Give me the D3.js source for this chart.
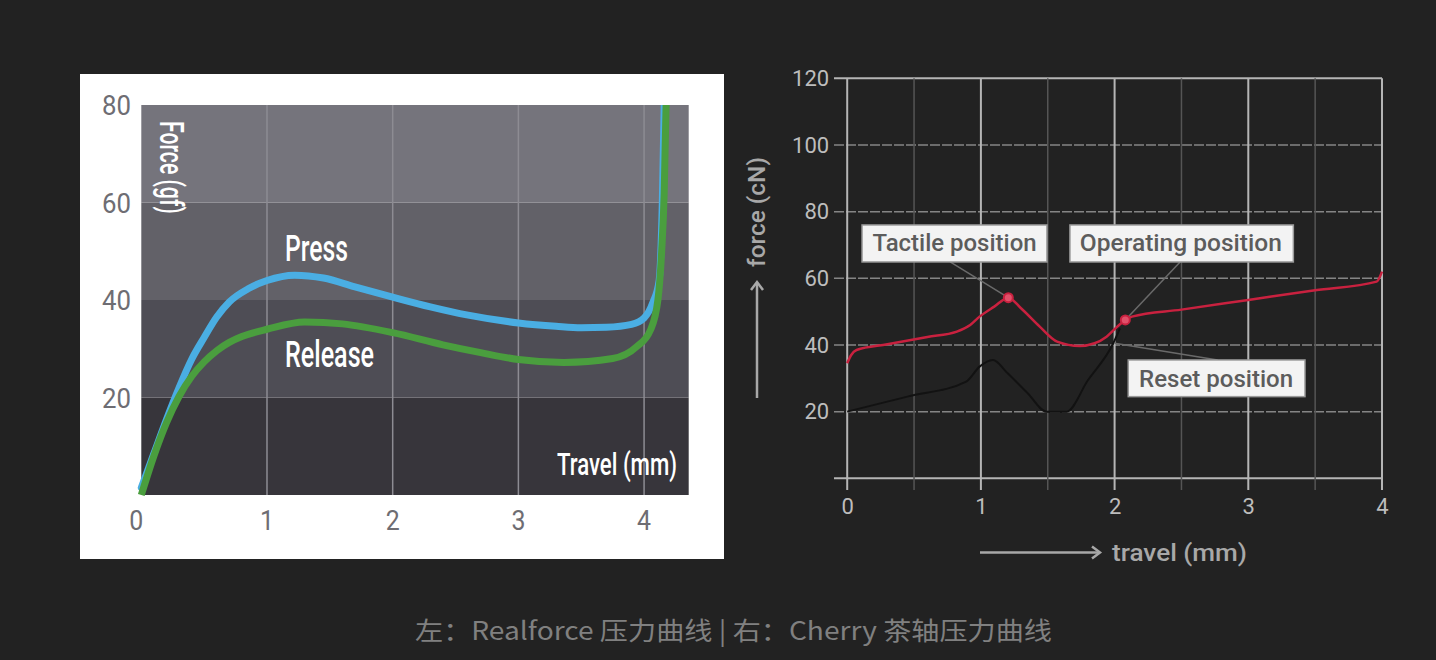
<!DOCTYPE html>
<html>
<head>
<meta charset="utf-8">
<script src="https://cdn.jsdelivr.net/npm/d3@7"></script>
<style>
  html, body { margin: 0; padding: 0; background: #222222; }
  svg { display: block; }
</style>
</head>
<body>
<svg id="chart" width="1436" height="660"></svg>
<script>
// ---------------- DATA ----------------
// Left chart (Realforce)
const leftXTicks = [0, 1, 2, 3, 4];
const leftYTicks = [20, 40, 60, 80];
const leftBandEdges = [0, 20, 40, 60, 80];
const pressX = [0, 0.1, 0.2, 0.3, 0.4, 0.5, 0.6, 0.7, 0.85, 1.0, 1.22, 1.45, 1.7, 2.0, 2.3, 2.6, 3.0, 3.3, 3.5, 3.7, 3.9, 4.0, 4.07, 4.12, 4.145, 4.16];
const pressY = [1.5, 8.5, 15.5, 22, 27.8, 32.3, 36.5, 39.6, 42.3, 44, 45.1, 44.5, 42.7, 40.6, 38.6, 36.9, 35.3, 34.6, 34.3, 34.4, 35, 36.3, 39.5, 44, 60, 80];
const releaseX = [0, 0.1, 0.2, 0.3, 0.4, 0.5, 0.6, 0.7, 0.8, 1.0, 1.3, 1.6, 2.0, 2.4, 2.7, 3.0, 3.36, 3.75, 3.94, 4.05, 4.11, 4.14, 4.16, 4.175];
const releaseY = [0, 8, 14.8, 20.2, 24.3, 27.3, 29.6, 31.3, 32.5, 34.0, 35.5, 35.1, 33.3, 30.8, 29.2, 27.8, 27.2, 28, 30.4, 33.8, 40, 50, 62, 80];

// Right chart (Cherry brown)
const rightXTicks = [0, 0.5, 1, 1.5, 2, 2.5, 3, 3.5, 4];
const rightYTicks = [0, 20, 40, 60, 80, 100, 120];
const actuationX = [0, 0.03, 0.07, 0.3, 0.6, 0.82, 0.92, 0.99, 1.1, 1.205, 1.3, 1.44, 1.57, 1.74, 1.85, 1.94, 2.02, 2.08, 2.13, 2.5, 3.0, 3.5, 3.96, 4.0];
const actuationY = [34.5, 37, 38.5, 40.2, 42.4, 44, 46, 48.5, 51.5, 54.2, 51, 45.5, 41, 39.7, 40.5, 42.5, 45.5, 47.5, 48.5, 50.6, 53.5, 56.4, 59, 62];
const returnX = [0, 0.45, 0.89, 0.99, 1.09, 1.2, 1.35, 1.49, 1.64, 1.8, 1.99, 2.04];
const returnY = [20, 24.5, 29, 33.5, 35.5, 31.5, 25.5, 20, 20, 29.4, 40.5, 45];
const annotationNames = ["Tactile position", "Operating position", "Reset position"];
const annotationX = [1.205, 2.08, 2.0];
const annotationY = [54.2, 47.5, 40.5];
const markedPoints = [0, 1]; // annotations that get a red marker

const caption = "左：Realforce 压力曲线 | 右：Cherry 茶轴压力曲线";

// ---------------- LAYOUT ----------------
const svg = d3.select("#chart");
svg.append("rect").attr("width", 1436).attr("height", 660).attr("fill", "#222222");

// ===== Left chart =====
const L = svg.append("g");
L.append("rect").attr("x", 80).attr("y", 74).attr("width", 644).attr("height", 485).attr("fill", "#ffffff");

const lx = d3.scaleLinear().domain([0, 4.355]).range([141.3, 688.7]);
const ly = d3.scaleLinear().domain([0, 80]).range([495, 105]);
const bandColors = ["#37353b", "#4e4d55", "#626168", "#75747c"];

L.selectAll("rect.band").data(d3.pairs(leftBandEdges)).join("rect")
  .attr("class", "band")
  .attr("x", lx(0)).attr("width", lx(4.355) - lx(0))
  .attr("y", d => ly(d[1])).attr("height", d => ly(d[0]) - ly(d[1]))
  .attr("fill", (d, i) => bandColors[i]);

L.selectAll("line.vgrid").data(leftXTicks.filter(d => d > 0)).join("line")
  .attr("class", "vgrid")
  .attr("x1", d => lx(d)).attr("x2", d => lx(d))
  .attr("y1", ly(80)).attr("y2", ly(0))
  .attr("stroke", "#8d8c93").attr("stroke-width", 1.5);

L.selectAll("text.ytick").data(leftYTicks).join("text")
  .attr("class", "ytick")
  .attr("x", 131).attr("y", d => ly(d))
  .attr("dy", "0.36em").attr("text-anchor", "end")
  .attr("font-family", "Roboto").attr("font-size", 28)
  .attr("fill", "#6e6d73")
  .attr("textLength", 29).attr("lengthAdjust", "spacingAndGlyphs")
  .text(d => d);

L.selectAll("text.xtick").data(leftXTicks).join("text")
  .attr("class", "xtick")
  .attr("x", d => lx(d) - (d === 0 ? 5 : 0)).attr("y", 530)
  .attr("text-anchor", "middle")
  .attr("font-family", "Roboto").attr("font-size", 28)
  .attr("fill", "#6e6d73")
  .attr("textLength", 14).attr("lengthAdjust", "spacingAndGlyphs")
  .text(d => d);

const lline = d3.line().x(d => lx(d[0])).y(d => ly(d[1])).curve(d3.curveMonotoneX);
L.append("path").datum(d3.zip(pressX, pressY))
  .attr("d", lline).attr("fill", "none")
  .attr("stroke", "#4aaee3").attr("stroke-width", 7).attr("stroke-linecap", "round");
L.append("path").datum(d3.zip(releaseX, releaseY))
  .attr("d", lline).attr("fill", "none")
  .attr("stroke", "#4a9e3e").attr("stroke-width", 7).attr("stroke-linecap", "butt");

// cover overflow above the plot area
L.append("rect").attr("x", 600).attr("y", 74).attr("width", 124).attr("height", ly(80) - 74).attr("fill", "#ffffff");

const condensed = (sel, len) => sel.attr("textLength", len).attr("lengthAdjust", "spacingAndGlyphs");
L.append("text").attr("x", 285).attr("y", 261)
  .attr("font-family", "Roboto").attr("font-weight", 500).attr("font-size", 37).attr("fill", "#ffffff")
  .call(condensed, 63).text("Press");
L.append("text").attr("x", 285).attr("y", 367)
  .attr("font-family", "Roboto").attr("font-weight", 500).attr("font-size", 37).attr("fill", "#ffffff")
  .call(condensed, 89).text("Release");
L.append("text").attr("x", 557).attr("y", 475)
  .attr("font-family", "Roboto").attr("font-weight", 500).attr("font-size", 32).attr("fill", "#ffffff")
  .call(condensed, 120).text("Travel (mm)");
L.append("text").attr("transform", "translate(160,121) rotate(90)")
  .attr("font-family", "Roboto").attr("font-weight", 500).attr("font-size", 33).attr("fill", "#ffffff")
  .call(condensed, 93).text("Force (gf)");

// ===== Right chart =====
const R = svg.append("g");
const rx = d3.scaleLinear().domain([0, 4]).range([847.2, 1382]);
const ry = d3.scaleLinear().domain([0, 120]).range([478.3, 78.3]);
const major = d => Number.isInteger(d);

// horizontal grid
R.selectAll("line.hgrid").data(rightYTicks).join("line")
  .attr("class", "hgrid")
  .attr("x1", 834).attr("x2", rx(4))
  .attr("y1", d => ry(d)).attr("y2", d => ry(d))
  .attr("stroke", d => (d === 0 || d === 120) ? "#b5b5b5" : "#858585")
  .attr("stroke-width", d => (d === 0 || d === 120) ? 2 : 1.5)
  .attr("stroke-dasharray", d => (d === 0 || d === 120) ? null : "10,2");

// vertical grid
R.selectAll("line.vgrid").data(rightXTicks).join("line")
  .attr("class", "vgrid")
  .attr("x1", d => rx(d)).attr("x2", d => rx(d))
  .attr("y1", ry(120)).attr("y2", 490)
  .attr("stroke", d => major(d) ? "#b5b5b5" : "#555555")
  .attr("stroke-width", d => major(d) ? 2 : 1.5);

// axes labels via d3 axes
const yAxis = d3.axisLeft(ry).tickValues(rightYTicks).tickSize(0).tickPadding(18)
  .tickFormat(d => d === 0 ? "" : d);
const yg = R.append("g").attr("transform", `translate(${rx(0)},0)`).call(yAxis);
yg.select(".domain").remove();
yg.selectAll("text").attr("font-family", "Roboto").attr("font-size", 22).attr("fill", "#bdbdbd");

const xAxis = d3.axisBottom(rx).tickValues(rightXTicks).tickSize(0).tickPadding(20)
  .tickFormat(d => major(d) ? d : "");
const xg = R.append("g").attr("transform", `translate(0,${ry(0)})`).call(xAxis);
xg.select(".domain").remove();
xg.selectAll("text").attr("font-family", "Roboto").attr("font-size", 22).attr("fill", "#bdbdbd");

// curves
const rline = d3.line().x(d => rx(d[0])).y(d => ry(d[1])).curve(d3.curveMonotoneX);
R.append("path").datum(d3.zip(returnX, returnY))
  .attr("d", rline).attr("fill", "none").attr("stroke", "#121212").attr("stroke-width", 2);
R.append("path").datum(d3.zip(actuationX, actuationY))
  .attr("d", rline).attr("fill", "none").attr("stroke", "#c9213f").attr("stroke-width", 2.5);

// annotations (box anchor layout in data units)
const boxLayout = [
  { x0: 0.111, x1: 1.494, y0: 76, y1: 64.9, tx: 0.19, ty: 68.2, len: 164, lx: 0.77, ly: 64.9 },
  { x0: 1.666, x1: 3.337, y0: 76, y1: 64.9, tx: 1.74, ty: 68.2, len: 202, lx: 2.49, ly: 64.9 },
  { x0: 2.102, x1: 3.424, y0: 35.5, y1: 24.5, tx: 2.183, ty: 27.5, len: 154, lx: 2.77, ly: 35.5 }
];
const ann = R.selectAll("g.ann").data(annotationNames.map((n, i) => ({ name: n, px: annotationX[i], py: annotationY[i], b: boxLayout[i] })))
  .join("g").attr("class", "ann");
ann.append("line")
  .attr("x1", d => rx(d.b.lx)).attr("y1", d => ry(d.b.ly))
  .attr("x2", d => rx(d.px)).attr("y2", d => ry(d.py))
  .attr("stroke", "#6a6a6a").attr("stroke-width", 1.5);
ann.append("rect")
  .attr("x", d => rx(d.b.x0)).attr("y", d => ry(d.b.y0))
  .attr("width", d => rx(d.b.x1) - rx(d.b.x0)).attr("height", d => ry(d.b.y1) - ry(d.b.y0))
  .attr("fill", "#f3f3f3").attr("stroke", "#9a9a9a").attr("stroke-width", 1.5);
ann.append("text")
  .attr("x", d => rx(d.b.tx)).attr("y", d => ry(d.b.ty))
  .attr("font-family", "Roboto").attr("font-weight", 500).attr("font-size", 23).attr("fill", "#5c5c5c")
  .attr("textLength", d => d.b.len).attr("lengthAdjust", "spacingAndGlyphs")
  .text(d => d.name);

R.selectAll("circle.mark").data(markedPoints).join("circle")
  .attr("class", "mark")
  .attr("cx", i => rx(annotationX[i])).attr("cy", i => ry(annotationY[i]))
  .attr("r", 4.5).attr("fill", "#e0506a").attr("stroke", "#c9213f").attr("stroke-width", 2);

// axis titles with arrows
const arrowColor = "#a8a8a8";
R.append("line").attr("x1", 757).attr("y1", 398).attr("x2", 757).attr("y2", 283)
  .attr("stroke", arrowColor).attr("stroke-width", 2.5);
R.append("path").attr("d", "M751,290 L757,282 L763,290").attr("fill", "none")
  .attr("stroke", arrowColor).attr("stroke-width", 2.5);
R.append("text").attr("transform", "translate(765,267) rotate(-90)")
  .attr("font-family", "Roboto").attr("font-weight", 500).attr("font-size", 23).attr("fill", arrowColor)
  .attr("textLength", 110).attr("lengthAdjust", "spacingAndGlyphs")
  .text("force (cN)");

R.append("line").attr("x1", 980).attr("y1", 552.5).attr("x2", 1099).attr("y2", 552.5)
  .attr("stroke", arrowColor).attr("stroke-width", 2.5);
R.append("path").attr("d", "M1092,546.5 L1100,552.5 L1092,558.5").attr("fill", "none")
  .attr("stroke", arrowColor).attr("stroke-width", 2.5);
R.append("text").attr("x", 1112).attr("y", 561)
  .attr("font-family", "Roboto").attr("font-weight", 500).attr("font-size", 24).attr("fill", arrowColor)
  .attr("textLength", 135).attr("lengthAdjust", "spacingAndGlyphs")
  .text("travel (mm)");

// caption
svg.append("text").attr("x", 733.5).attr("y", 640)
  .attr("text-anchor", "middle")
  .attr("font-family", "'Noto Sans CJK SC', 'Noto Sans', sans-serif").attr("font-size", 25)
  .attr("fill", "#808080")
  .attr("textLength", 637).attr("lengthAdjust", "spacingAndGlyphs")
  .text(caption);
</script>
</body>
</html>
